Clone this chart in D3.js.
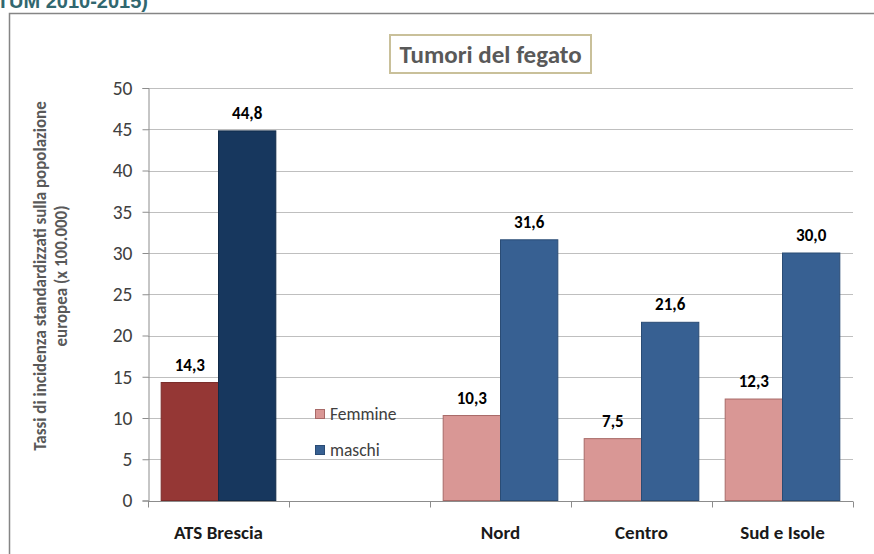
<!DOCTYPE html>
<html>
<head>
<meta charset="utf-8">
<script src="https://cdn.jsdelivr.net/npm/d3@7"></script>
<style>
  html, body { margin: 0; padding: 0; background: #fff; }
  svg { display: block; font-family: Carlito, Lato, "Open Sans", sans-serif; }
</style>
</head>
<body>
<div id="chart"></div>
<script>
// data
var categories = ["ATS Brescia", "", "Nord", "Centro", "Sud e Isole"];
var seriesNames = ["Femmine", "maschi"];
var femmine = [14.3, null, 10.3, 7.5, 12.3];
var maschi = [44.8, null, 31.6, 21.6, 30.0];
var yTicks = [0, 5, 10, 15, 20, 25, 30, 35, 40, 45, 50];

var W = 874, H = 554;
var plot = {left: 148, right: 853, top: 88, bottom: 500.5};

// colours: ATS Brescia gets the darker pair
var fillF = "#d99795", fillM = "#376092";
var fillFats = "#953735", fillMats = "#17375e";

var svg = d3.select("#chart").append("svg")
    .attr("width", W)
    .attr("height", H);

// caption above the frame (cut by the page top, as in the source)
svg.append("text")
    .attr("x", 148).attr("y", 8)
    .attr("text-anchor", "end")
    .style("font-family", "'Liberation Sans', Arial, sans-serif")
    .style("font-weight", "bold")
    .style("font-size", "20px")
    .attr("fill", "#31676f")
    .text("(AIRTUM 2010-2015)");

// outer chart frame (open on the right / bottom)
svg.append("path")
    .attr("d", "M9.5," + H + " L9.5,13.5 L" + W + ",13.5")
    .attr("fill", "none")
    .attr("stroke", "#858585")
    .attr("stroke-width", 1.5);

var x0 = d3.scaleBand()
    .domain(d3.range(categories.length))
    .range([plot.left, plot.right])
    .padding(0);

var x1 = d3.scaleBand()
    .domain(seriesNames)
    .range([0, x0.bandwidth()])
    .paddingInner(0)
    .paddingOuter(0.23);

var y = d3.scaleLinear()
    .domain([0, 50])
    .range([plot.bottom, plot.top]);

// gridlines
svg.append("g").selectAll("line")
    .data(yTicks.filter(function(d){ return d > 0; }))
    .enter()
    .append("line")
    .attr("x1", plot.left).attr("x2", plot.right)
    .attr("y1", function(d){ return Math.round(y(d)) + 0.5; })
    .attr("y2", function(d){ return Math.round(y(d)) + 0.5; })
    .attr("stroke", "#bfbfbf")
    .attr("stroke-width", 1);

// y axis
var yAxis = svg.append("g")
    .attr("transform", "translate(" + (plot.left + 0.5) + ",0)")
    .call(d3.axisLeft(y).tickValues(yTicks).tickSize(6).tickPadding(10));
yAxis.select(".domain").attr("stroke", "#8c8c8c");
yAxis.selectAll(".tick line").attr("stroke", "#8c8c8c");
yAxis.selectAll(".tick text")
    .style("font-size", "19.5px")
    .style("font-family", "Carlito, Lato, sans-serif")
    .attr("fill", "#404040");

// x axis
var xAxis = svg.append("g")
    .attr("transform", "translate(0," + (Math.round(plot.bottom) + 0.5) + ")");
xAxis.append("line")
    .attr("x1", plot.left).attr("x2", plot.right)
    .attr("stroke", "#8c8c8c");
xAxis.selectAll("line.tick")
    .data(d3.range(categories.length + 1))
    .enter()
    .append("line")
    .attr("class", "tick")
    .attr("x1", function(i){ return Math.round(plot.left + i * x0.step()) + 0.5; })
    .attr("x2", function(i){ return Math.round(plot.left + i * x0.step()) + 0.5; })
    .attr("y1", 0).attr("y2", 6)
    .attr("stroke", "#8c8c8c");
xAxis.selectAll("text")
    .data(categories)
    .enter()
    .append("text")
    .attr("x", function(d, i){ return x0(i) + x0.bandwidth() / 2; })
    .attr("y", 37)
    .attr("text-anchor", "middle")
    .style("font-weight", "bold")
    .style("font-size", "19px")
    .attr("fill", "#1a1a1a")
    .text(function(d){ return d; });

// bars
var rows = categories.map(function(c, i){
    return [
        {i: i, s: "Femmine", v: femmine[i], fill: i === 0 ? fillFats : fillF, stroke: i === 0 ? "#7a2b29" : "#a86a68"},
        {i: i, s: "maschi", v: maschi[i], fill: i === 0 ? fillMats : fillM, stroke: i === 0 ? "#112a48" : "#2a4c75"}
    ];
});
var flat = [].concat.apply([], rows).filter(function(d){ return d.v != null; });

var bars = svg.append("g");
bars.selectAll("rect")
    .data(flat)
    .enter()
    .append("rect")
    .attr("x", function(d){ return x0(d.i) + x1(d.s); })
    .attr("y", function(d){ return y(d.v); })
    .attr("width", x1.bandwidth())
    .attr("height", function(d){ return y(0) - y(d.v); })
    .attr("fill", function(d){ return d.fill; })
    .attr("stroke", function(d){ return d.stroke; })
    .attr("stroke-width", 1);

// value labels
bars.selectAll("text")
    .data(flat)
    .enter()
    .append("text")
    .attr("x", function(d){ return x0(d.i) + x1(d.s) + x1.bandwidth() / 2; })
    .attr("y", function(d){ return y(d.v) - 12; })
    .attr("text-anchor", "middle")
    .style("font-weight", "bold")
    .style("font-size", "17px")
    .attr("fill", "#000")
    .text(function(d){ return d3.format(".1f")(d.v).replace(".", ","); });

// legend
var legend = svg.append("g").attr("transform", "translate(315,0)");
var legendY = [414, 450];
var legendCols = [fillF, fillM];
var legendStroke = ["#a86a68", "#2a4c75"];
seriesNames.forEach(function(name, k){
    legend.append("rect")
        .attr("x", 0.5).attr("y", legendY[k] - 4.5)
        .attr("width", 9).attr("height", 9)
        .attr("fill", legendCols[k])
        .attr("stroke", legendStroke[k]);
    legend.append("text")
        .attr("x", 15).attr("y", legendY[k] + 6)
        .style("font-size", "17.5px")
        .attr("fill", "#404040")
        .text(name);
});

// title box
var title = svg.append("g");
title.append("rect")
    .attr("x", 390).attr("y", 35)
    .attr("width", 201).attr("height", 38)
    .attr("fill", "#fff")
    .attr("stroke", "#c9c09a")
    .attr("stroke-width", 2);
title.append("text")
    .attr("x", 490.5).attr("y", 63)
    .attr("text-anchor", "middle")
    .style("font-weight", "bold")
    .style("font-size", "25px")
    .attr("fill", "#595959")
    .text("Tumori del fegato");

// y axis title
var yTitle = svg.append("text")
    .attr("transform", "translate(51,276) rotate(-90)")
    .attr("text-anchor", "middle")
    .style("font-weight", "bold")
    .style("font-size", "17px")
    .attr("fill", "#595959");
yTitle.append("tspan").attr("x", 0).attr("dy", "-0.3em")
    .text("Tassi di incidenza standardizzati sulla popolazione");
yTitle.append("tspan").attr("x", 0).attr("dy", "1.25em")
    .text("europea (x 100.000)");
</script>
</body>
</html>
